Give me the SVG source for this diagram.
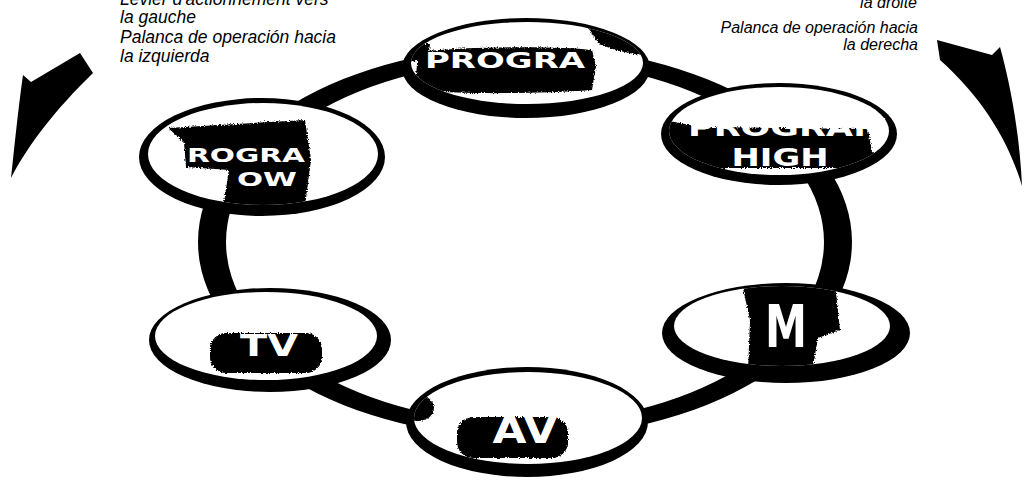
<svg xmlns="http://www.w3.org/2000/svg" width="1025" height="481" viewBox="0 0 1025 481">
<style>
.rim{fill:#000}
.face{fill:#fff}
.blob{fill:#000;filter:url(#rough)}
.lbl{font-family:"DejaVu Sans","Liberation Sans",sans-serif;font-weight:bold;fill:#fff;text-anchor:middle}
.note{font-family:"Liberation Sans",Arial,sans-serif;font-style:italic;fill:#000}
</style>
<defs>
<filter id="rough" x="-10%" y="-10%" width="120%" height="120%">
<feTurbulence type="fractalNoise" baseFrequency="0.7" numOctaves="2" seed="4" result="n"/>
<feDisplacementMap in="SourceGraphic" in2="n" scale="4" xChannelSelector="R" yChannelSelector="G"/>
</filter>
<clipPath id="c-program"><ellipse cx="527" cy="63" rx="116" ry="41"/></clipPath>
<clipPath id="c-high"><ellipse cx="779" cy="131" rx="110" ry="44"/></clipPath>
<clipPath id="c-low"><ellipse cx="263" cy="154" rx="115" ry="51"/></clipPath>
<clipPath id="c-tv"><ellipse cx="266" cy="336" rx="111" ry="44"/></clipPath>
<clipPath id="c-m"><ellipse cx="782" cy="326" rx="108" ry="40"/></clipPath>
<clipPath id="c-av"><ellipse cx="528" cy="418" rx="114" ry="46"/></clipPath>
</defs>
<rect width="1025" height="481" fill="#fff"/>

<g id="labels">
<text class="note" font-size="17.5" x="120" y="5">Levier d'actionnement vers</text>
<text class="note" font-size="17.5" x="120" y="23">la gauche</text>
<text class="note" font-size="17.5" x="120" y="43">Palanca de operación hacia</text>
<text class="note" font-size="17.5" x="120" y="62">la izquierda</text>
<text class="note" font-size="16" x="917" y="8" text-anchor="end">la droite</text>
<text class="note" font-size="16" x="918" y="33" text-anchor="end">Palanca de operación hacia</text>
<text class="note" font-size="16" x="918" y="50" text-anchor="end">la derecha</text>
</g>

<g id="arrows">
<path id="arrow-left" d="M 80 53 L 31 82 L 23 75 C 18 110 14 150 11 178 C 28 145 55 110 93 73 Z" fill="#000"/>
<path id="arrow-right" d="M 937 40 L 992 55 L 1000 47 C 1012 90 1020 140 1022 186 C 1010 145 985 100 940 60 Z" fill="#000"/>
</g>

<g id="connectors">
<path fill="#000" fill-rule="evenodd" d="M 198 242 A 327 196 0 1 0 852 242 A 327 196 0 1 0 198 242 Z M 226 242 A 299 181 0 1 0 824 242 A 299 181 0 1 0 226 242 Z"/>
</g>

<g id="node-program">
<ellipse class="rim" cx="526" cy="68" rx="124" ry="50"/>
<ellipse class="face" cx="527" cy="63" rx="116" ry="41"/>
<g clip-path="url(#c-program)">
<path class="blob" d="M 418 52 C 470 46 560 46 592 50 L 596 66 L 592 90 C 540 94 460 94 428 91 L 416 76 Z"/>
<path class="blob" d="M 584 18 L 650 18 L 650 56 C 630 54 612 50 600 44 C 592 36 588 28 584 18 Z"/>
<path class="blob" d="M 405 44 L 430 44 L 428 60 L 405 62 Z"/>
</g>
<text class="lbl" x="505" y="68" font-size="22" textLength="160" lengthAdjust="spacingAndGlyphs">PROGRA</text>
</g>

<g id="node-program-high">
<ellipse class="rim" cx="779" cy="134" rx="118" ry="51"/>
<ellipse class="face" cx="779" cy="131" rx="110" ry="44"/>
<g clip-path="url(#c-high)">
<path class="blob" d="M 664 120 L 700 127 L 868 129 L 872 152 L 890 160 L 860 168 L 700 168 L 666 166 Z"/>
</g>
<text class="lbl" x="788" y="136" font-size="25" textLength="200" lengthAdjust="spacingAndGlyphs">PROGRAM</text>
<text class="lbl" x="780" y="166" font-size="25" textLength="97" lengthAdjust="spacingAndGlyphs">HIGH</text>
</g>

<g id="node-program-low">
<ellipse class="rim" cx="262" cy="157" rx="123" ry="59"/>
<ellipse class="face" cx="263" cy="154" rx="115" ry="51"/>
<g clip-path="url(#c-low)">
<path class="blob" d="M 168 128 L 305 120 L 311 160 L 304 213 L 222 214 L 229 170 L 186 167 L 184 142 Z"/>
</g>
<text class="lbl" x="246" y="162" font-size="20" textLength="118" lengthAdjust="spacingAndGlyphs">ROGRA</text>
<text class="lbl" x="267" y="186" font-size="20" textLength="60" lengthAdjust="spacingAndGlyphs">OW</text>
</g>

<g id="node-tv">
<ellipse class="rim" cx="270" cy="340" rx="121" ry="52"/>
<ellipse class="face" cx="266" cy="336" rx="111" ry="44"/>
<g clip-path="url(#c-tv)">
<rect class="blob" x="210" y="333" width="112" height="40" rx="16"/>
</g>
<text class="lbl" x="269" y="356" font-size="30" textLength="58" lengthAdjust="spacingAndGlyphs">TV</text>
</g>

<g id="node-m">
<ellipse class="rim" cx="786" cy="333" rx="124" ry="50"/>
<ellipse class="face" cx="782" cy="326" rx="108" ry="40"/>
<g clip-path="url(#c-m)">
<path class="blob" d="M 742 284 L 835 284 L 840 330 L 818 338 L 812 372 L 748 372 L 750 320 Z"/>
</g>
<text class="lbl" x="786" y="347" font-size="58" textLength="42" lengthAdjust="spacingAndGlyphs">M</text>
</g>

<g id="node-av">
<ellipse class="rim" cx="527" cy="422" rx="121" ry="55"/>
<ellipse class="face" cx="528" cy="418" rx="114" ry="46"/>
<g clip-path="url(#c-av)">
<rect class="blob" x="457" y="417" width="111" height="41" rx="16"/>
<ellipse class="blob" cx="418" cy="408" rx="16" ry="13"/>
</g>
<text class="lbl" x="525" y="443" font-size="38" textLength="65" lengthAdjust="spacingAndGlyphs">AV</text>
</g>
</svg>
